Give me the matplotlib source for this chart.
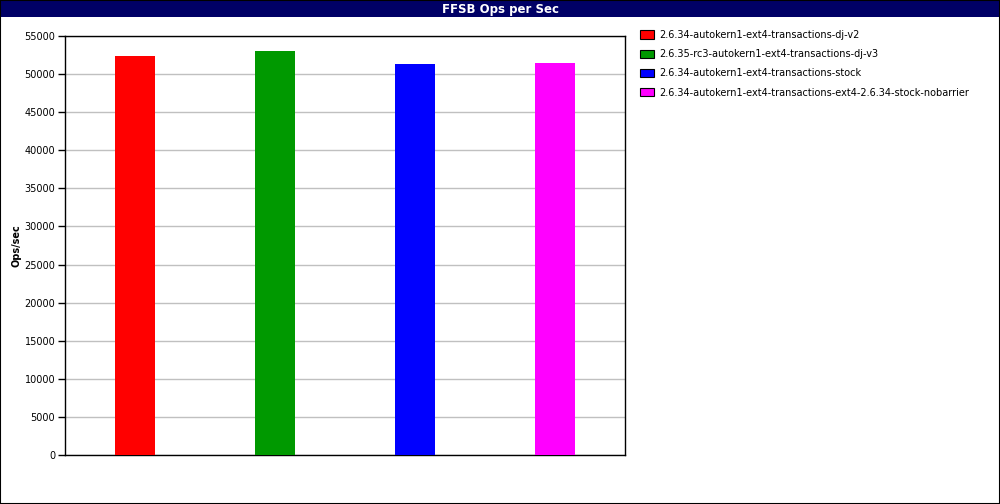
import matplotlib.pyplot as plt
from matplotlib.patches import Rectangle

# 数据
labels = ["2.6.34-autokern1-ext4-transactions-dj-v2",
          "2.6.35-rc3-autokern1-ext4-transactions-dj-v3",
          "2.6.34-autokern1-ext4-transactions-stock",
          "2.6.34-autokern1-ext4-transactions-ext4-2.6.34-stock-nobarrier"]
ops = [52400, 53050, 51350, 51490]
colors = ["#ff0000", "#009900", "#0000ff", "#ff00ff"]
yticks = list(range(0, 55001, 5000))

fig = plt.figure(figsize=(10, 5.04), dpi=100)
W, H = 1000, 504

# 标题栏
fig.patches.append(Rectangle((0, 1 - 17 / H), 1, 17 / H, transform=fig.transFigure,
                             facecolor="#000066", edgecolor="none", zorder=0))
fig.text(0.5, 1 - 9 / H, "FFSB Ops per Sec", color="white", fontsize=8.5, fontweight="bold",
         ha="center", va="center")
# 外框
fig.patches.append(Rectangle((0, 0), 1, 1, transform=fig.transFigure, fill=False,
                             edgecolor="black", linewidth=1.5, zorder=5))

ax = fig.add_axes([65 / W, 1 - 455 / H, 560 / W, 419 / H])
x = range(len(ops))
for i in x:
    ax.bar(i, ops[i], width=40 / 140, color=colors[i], label=labels[i], zorder=3)
ax.set_xlim(-0.5, 3.5)
ax.set_ylim(0, 55000)
ax.set_yticks(yticks)
ax.set_yticklabels([str(t) for t in yticks], fontsize=7)
ax.set_xticks([])
ax.yaxis.grid(True, color="#c0c0c0", linewidth=1, zorder=0)
ax.tick_params(axis="y", length=5, width=1, pad=2)
for s in ax.spines.values():
    s.set_linewidth(1)
ax.set_ylabel("Ops/sec", fontsize=7, fontweight="bold", va="center")
ax.yaxis.set_label_coords(-48 / 560, 0.5)

leg = ax.legend(loc="upper left", bbox_to_anchor=(636 / W, 1 - 26 / H), bbox_transform=fig.transFigure,
                frameon=False, fontsize=7, handlelength=1.4, handleheight=0.9, handletextpad=0.6,
                labelspacing=0.95, borderaxespad=0)
for h in leg.legend_handles:
    h.set_edgecolor("black")
    h.set_linewidth(0.8)

fig.savefig("out.png", dpi=100)
